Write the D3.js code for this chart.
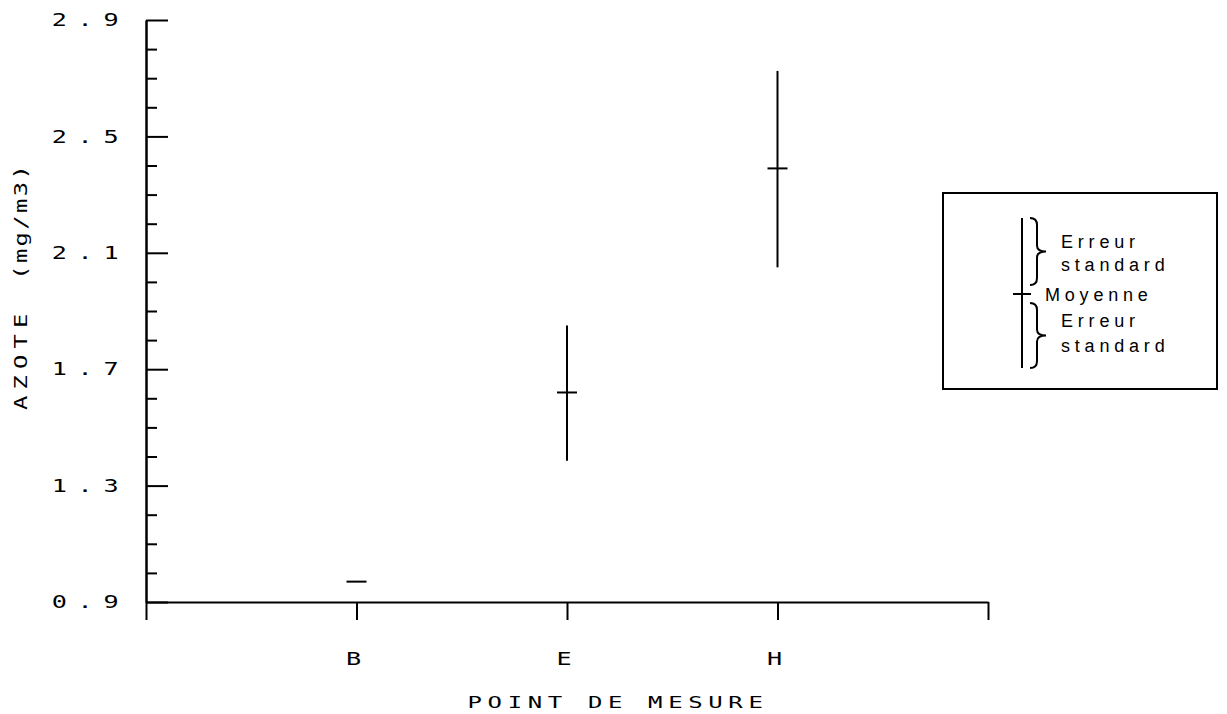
<!DOCTYPE html>
<html>
<head>
<meta charset="utf-8">
<script src="https://cdn.jsdelivr.net/npm/d3@7"></script>
<style>
  body { margin: 0; background: #fff; }
  .plot text { font-family: "DejaVu Sans Mono", "Liberation Mono", monospace; fill: #000; }
  .legend text { font-family: "Liberation Sans", Arial, sans-serif; fill: #000; }
</style>
</head>
<body>
<div id="chart"></div>
<script>
// categories and values (mg/m3)
var categories = ["B", "E", "H"];
var means = [0.97, 1.62, 2.39];
var lows  = [0.97, 1.385, 2.05];
var highs = [0.97, 1.85, 2.725];

// tick values
var yMajorTicks = [0.9, 1.3, 1.7, 2.1, 2.5, 2.9];
var yMinorTicks = [1.0, 1.1, 1.2, 1.4, 1.5, 1.6, 1.8, 1.9, 2.0, 2.2, 2.3, 2.4, 2.6, 2.7, 2.8];

var legendLabels = ["Erreur", "standard", "Moyenne", "Erreur", "standard"];

// set the dimensions and margins of the graph
var margin = {top: 20, right: 239, bottom: 112, left: 146},
    width = 1227 - margin.left - margin.right,
    height = 714 - margin.top - margin.bottom;

var x = d3.scaleLinear().domain([0, categories.length + 1]).range([0, width]);
var y = d3.scaleLinear().domain([0.9, 2.9]).range([height, 0]);

// plotter-style lettering is wide: stretch the glyphs horizontally
var stretch = 1.4;

var svg = d3.select("#chart").append("svg")
    .attr("width", 1227)
    .attr("height", 714);

var g = svg.append("g")
    .attr("class", "plot")
    .attr("transform", "translate(" + margin.left + "," + margin.top + ")");

// Y axis, minor ticks
g.append("g")
    .call(d3.axisLeft(y).tickValues(yMinorTicks).tickSizeInner(-11).tickSizeOuter(0).tickFormat(""));

// Y axis, major ticks + labels
var yAx = g.append("g")
    .call(d3.axisLeft(y).tickValues(yMajorTicks).tickSizeInner(-22).tickSizeOuter(0)
      .tickPadding(12).tickFormat(d3.format(".1f")));
yAx.selectAll("text")
    .attr("transform", "scale(" + stretch + ",1)")
    .style("font-size", "18px")
    .style("letter-spacing", "7.6px");

// X axis
var xAx = g.append("g")
    .attr("transform", "translate(0," + height + ")")
    .call(d3.axisBottom(x).tickValues(d3.range(0, categories.length + 2))
      .tickSizeInner(18).tickSizeOuter(0).tickPadding(32)
      .tickFormat(function(d) { return categories[d - 1] || ""; }));
xAx.selectAll("text")
    .attr("transform", "scale(" + stretch + ",1)")
    .style("font-size", "18px")
    .style("letter-spacing", "5px");

g.selectAll(".domain, .tick line")
    .attr("stroke", "#000")
    .attr("stroke-width", 2);

// error bars
var bars = g.selectAll(".bar")
    .data(categories)
    .enter().append("g")
    .attr("class", "bar");

bars.append("line")
    .attr("x1", function(d, i) { return x(i + 1); })
    .attr("x2", function(d, i) { return x(i + 1); })
    .attr("y1", function(d, i) { return y(highs[i]); })
    .attr("y2", function(d, i) { return y(lows[i]); })
    .attr("stroke", "#000")
    .attr("stroke-width", 2);

bars.append("line")
    .attr("x1", function(d, i) { return x(i + 1) - 10; })
    .attr("x2", function(d, i) { return x(i + 1) + 10; })
    .attr("y1", function(d, i) { return y(means[i]); })
    .attr("y2", function(d, i) { return y(means[i]); })
    .attr("stroke", "#000")
    .attr("stroke-width", 2);

// axis titles
var yTitle = svg.append("text")
    .attr("transform", "translate(27,410) rotate(-90) scale(" + stretch + ",1)")
    .style("font-family", "DejaVu Sans Mono, monospace")
    .style("font-size", "17px");
yTitle.append("tspan")
    .attr("x", 0)
    .style("letter-spacing", "4.4px")
    .text("AZOTE");
yTitle.append("tspan")
    .attr("x", 93)
    .style("letter-spacing", "1.7px")
    .text("(mg/m3)");

svg.append("text")
    .attr("transform", "translate(618,708) scale(1.5,1)")
    .attr("text-anchor", "middle")
    .style("font-family", "DejaVu Sans Mono, monospace")
    .style("font-size", "16px")
    .style("letter-spacing", "3.75px")
    .text("POINT DE MESURE");

// legend
var lg = svg.append("g").attr("class", "legend");
lg.append("rect")
    .attr("x", 943).attr("y", 193)
    .attr("width", 274).attr("height", 196)
    .attr("fill", "none").attr("stroke", "#000").attr("stroke-width", 2);

lg.append("line")
    .attr("x1", 1022).attr("x2", 1022).attr("y1", 218).attr("y2", 368)
    .attr("stroke", "#000").attr("stroke-width", 2);
lg.append("line")
    .attr("x1", 1013).attr("x2", 1031).attr("y1", 294).attr("y2", 294)
    .attr("stroke", "#000").attr("stroke-width", 2);

function brace(x0, y0, y1) {
  var m = (y0 + y1) / 2;
  return "M" + x0 + "," + y0 + " q7,0 7,7 L" + (x0 + 7) + "," + (m - 6) +
    " q0,6 9,6 q-9,0 -9,6 L" + (x0 + 7) + "," + (y1 - 7) + " q0,7 -7,7";
}
lg.append("path").attr("d", brace(1030, 218, 285))
    .attr("fill", "none").attr("stroke", "#000").attr("stroke-width", 2);
lg.append("path").attr("d", brace(1030, 303, 368))
    .attr("fill", "none").attr("stroke", "#000").attr("stroke-width", 2);

var legendPos = [[1061, 248], [1061, 271], [1045, 301], [1061, 327], [1061, 352]];
lg.selectAll(".ltext")
    .data(legendLabels)
    .enter().append("text")
    .attr("x", function(d, i) { return legendPos[i][0]; })
    .attr("y", function(d, i) { return legendPos[i][1]; })
    .style("font-size", "18px")
    .style("letter-spacing", "4.8px")
    .text(function(d) { return d; });
</script>
</body>
</html>
